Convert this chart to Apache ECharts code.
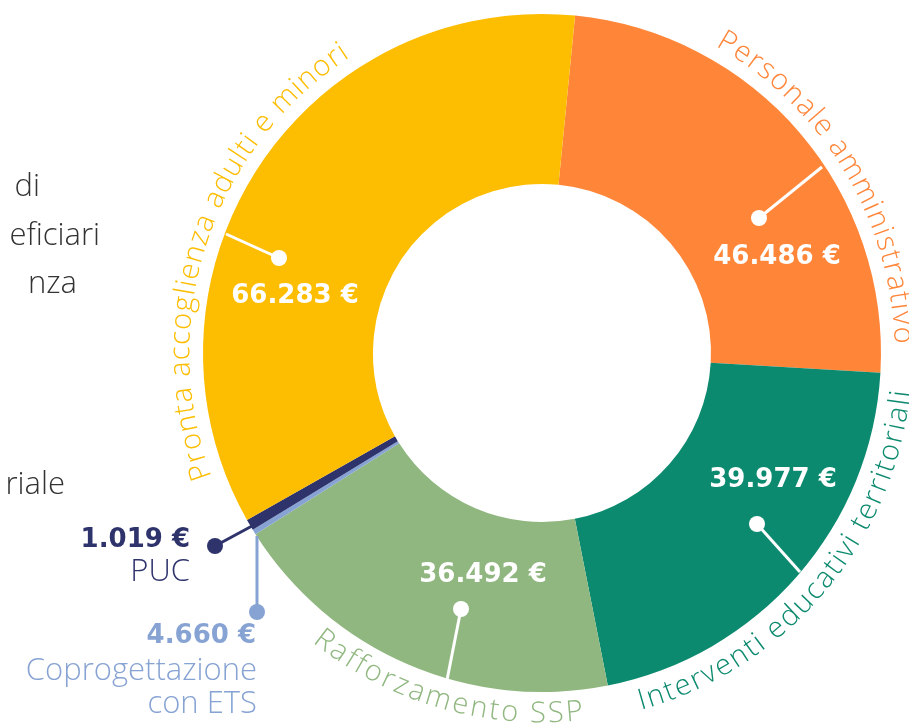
<!DOCTYPE html>
<html>
<head>
<meta charset="utf-8">
<script src="https://cdn.jsdelivr.net/npm/echarts@6/dist/echarts.min.js"></script>
<style>
  html, body { margin: 0; padding: 0; background: #fff; }
  #main { width: 909px; height: 727px; }
</style>
</head>
<body>
<div id="main"></div>
<script>
// clockwise from the top
var categories = ['Personale amministrativo', 'Interventi educativi territoriali', 'Rafforzamento SSP',
  'Coprogettazione con ETS', 'PUC', 'Pronta accoglienza adulti e minori'];
// slice sizes as they are drawn in the picture (the ETS slice is drawn much thinner than its label)
var values = [46486, 39977, 36492, 466, 1019, 66283];
var valueLabels = ['46.486 €', '39.977 €', '36.492 €', '4.660 €', '1.019 €', '66.283 €'];
var colors = ['#FF8639', '#0C8A6F', '#90B77F', '#87A3D3', '#2F336C', '#FDBD00'];

var cx = 542, cy = 353;
var FONT = '"Open Sans"';
var BOLDFONT = '"DejaVu Sans"';
var LIGHT = '300';

var chart = echarts.init(document.getElementById('main'));
var ctx = document.createElement('canvas').getContext('2d');

function polar(deg, r) {
  var a = deg * Math.PI / 180;
  return [cx + r * Math.sin(a), cy - r * Math.cos(a)];
}

// text bent along a circle; a0 -> a1 in degrees clockwise from the top
function arcText(str, a0, a1, r, color, size, bottom) {
  var font = LIGHT + ' ' + size + 'px ' + FONT;
  ctx.font = font;
  var chars = str.split('');
  var widths = chars.map(function (ch) { return ctx.measureText(ch).width; });
  var total = widths.reduce(function (s, w) { return s + w; }, 0);
  var span = Math.abs(a1 - a0) * Math.PI / 180 * r;
  var extra = (span - total) / (chars.length - 1);
  var dir = a1 > a0 ? 1 : -1;
  var out = [];
  var s = 0;
  chars.forEach(function (ch, i) {
    var mid = s + widths[i] / 2;
    var ang = a0 + dir * mid / r * 180 / Math.PI;
    var p = polar(ang, r);
    var rot = bottom ? (180 - ang) : -ang;
    out.push({
      type: 'text', x: p[0], y: p[1], rotation: rot * Math.PI / 180, z: 10, silent: true,
      style: { text: ch, fill: color, font: font, align: 'center', verticalAlign: 'middle' }
    });
    s += widths[i] + extra;
  });
  return out;
}

function label(x, y, text, color, size, weight, align, family) {
  return {
    type: 'text', x: x, y: y, z: 10, silent: true,
    style: { text: text, fill: color, font: weight + ' ' + size + 'px ' + (family || FONT),
      align: align || 'center', verticalAlign: 'middle' }
  };
}
function value(x, y, text, color, align) {
  return label(x, y, text, color, 26, 'bold', align, BOLDFONT);
}
function line(x1, y1, x2, y2, color, w) {
  return { type: 'line', z: 10, silent: true, shape: { x1: x1, y1: y1, x2: x2, y2: y2 },
    style: { stroke: color, lineWidth: w } };
}
function dot(x, y, r, color) {
  return { type: 'circle', z: 11, silent: true, shape: { cx: x, cy: y, r: r }, style: { fill: color } };
}

var g = [];
// curved category names
g = g.concat(arcText(categories[5], 249.5, 327, 361, colors[5], 29, false));
g = g.concat(arcText(categories[0], 29.5, 88.5, 361, colors[0], 29, false));
g = g.concat(arcText(categories[1], 164.5, 96, 362, colors[1], 29, true));
g = g.concat(arcText(categories[2], 218.5, 173.5, 361, colors[2], 29, true));

// leader lines and values inside the ring
g.push(line(226, 234, 279, 258, '#fff', 3), dot(279, 258, 8, '#fff'), value(295, 296, valueLabels[5], '#fff'));
g.push(line(822, 167, 759, 218, '#fff', 3), dot(759, 218, 8, '#fff'), value(777, 257, valueLabels[0], '#fff'));
g.push(line(800, 572, 757, 524, '#fff', 3), dot(757, 524, 8, '#fff'), value(773, 480, valueLabels[1], '#fff'));
g.push(line(447, 680, 461, 609, '#fff', 3), dot(461, 609, 8, '#fff'), value(483, 575, valueLabels[2], '#fff'));

// small slices, labelled outside
g.push(line(252, 526, 215, 546, colors[4], 3), dot(215, 546, 8, colors[4]));
g.push(value(190, 540, valueLabels[4], colors[4], 'right'));
g.push(label(190, 572, 'PUC', colors[4], 31, LIGHT, 'right'));
g.push(line(257, 536, 257, 612, colors[3], 3), dot(257, 612, 8, colors[3]));
g.push(value(256, 636, valueLabels[3], colors[3], 'right'));
g.push(label(257, 671, 'Coprogettazione', colors[3], 31, LIGHT, 'right'));
g.push(label(257, 704, 'con ETS', colors[3], 31, LIGHT, 'right'));

// text of the neighbouring block, cut at the left edge
g.push(label(40, 187, 'di', '#333', 31, LIGHT, 'right'));
g.push(label(100, 236, 'eficiari', '#333', 31, LIGHT, 'right'));
g.push(label(77, 284, 'nza', '#333', 31, LIGHT, 'right'));
g.push(label(65, 485, 'riale', '#333', 31, LIGHT, 'right'));

chart.setOption({
  animation: false,
  backgroundColor: '#fff',
  graphic: { elements: g },
  series: [{
    type: 'pie',
    center: [cx, cy],
    radius: [169, 339],
    startAngle: 84.4,
    clockwise: true,
    silent: true,
    label: { show: false },
    labelLine: { show: false },
    itemStyle: { borderWidth: 0 },
    data: categories.map(function (c, i) {
      return { name: c, value: values[i], itemStyle: { color: colors[i] } };
    })
  }]
});
</script>
</body>
</html>
